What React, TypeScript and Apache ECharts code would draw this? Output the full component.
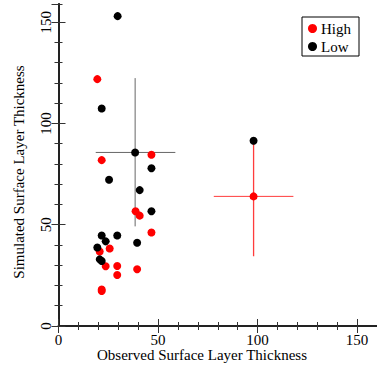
import React, { useEffect, useRef } from "react";
import * as echarts from "echarts";

const highPoints: number[][] = [
  [19.5, 121.9], [21.7, 81.9], [46.7, 84.6], [38.7, 56.7], [40.8, 54.5],
  [46.7, 46.2], [25.7, 38.3], [20.7, 36.8], [23.7, 29.5], [29.5, 29.6],
  [29.5, 25.2], [39.5, 28.0], [21.7, 18.0], [21.7, 17.3], [98, 64.0],
];
const lowPoints: number[][] = [
  [29.7, 153.0], [21.7, 107.4], [38.5, 85.7], [46.7, 77.9], [25.4, 72.2],
  [40.8, 67.1], [46.7, 56.7], [21.7, 44.7], [29.5, 44.7], [23.7, 41.8],
  [19.5, 38.8], [39.5, 41.1], [20.7, 32.9], [21.7, 32.1], [98, 91.5],
];
// [x, y, xLow, xHigh, yLow, yHigh]
const lowErrorBar: number[] = [38.5, 85.7, 18.7, 58.7, 49.2, 122.4];
const highErrorBar: number[] = [98, 64.0, 78, 118, 34.5, 91.5];
const seriesNames = ["High", "Low"];
const xTitle = "Observed Surface Layer Thickness";
const yTitle = "Simulated Surface Layer Thickness";

const FONT = "'Liberation Serif', 'DejaVu Serif', serif";

function makeErr(e: number[], color: string, vWidth: number) {
  const [x, y, xl, xh, yl, yh] = e;
  const base = {
    type: "line",
    silent: true,
    z: 1,
    symbol: "none",
    xAxisIndex: 0,
    yAxisIndex: 0,
    itemStyle: { color },
    emphasis: { disabled: true },
  };
  return [
    { ...base, lineStyle: { color, width: 1, opacity: 1 }, data: [[xl, y], [xh, y]] },
    { ...base, lineStyle: { color, width: vWidth, opacity: 1 }, data: [[x, yl], [x, yh]] },
  ];
}

export default function App() {
  const ref = useRef<HTMLDivElement>(null);
  useEffect(() => {
    if (!ref.current) return;
    const chart = echarts.init(ref.current, null, { renderer: "svg" });
    const axisLine = { show: true, lineStyle: { color: "#222", width: 1.5 } };
    const XMAX = 160, YMAX = 159;
    const mkX = (pos: string, major: boolean, labels: boolean) => ({
      type: "value",
      position: pos,
      min: 0,
      max: XMAX,
      interval: major ? 50 : 10,
      axisLine,
      axisTick: { show: true, inside: true, length: major ? 7 : 4, lineStyle: { color: "#333", width: 1 } },
      axisLabel: labels
        ? { show: true, showMaxLabel: false, margin: 6, fontFamily: FONT, fontSize: 15, color: "#000" }
        : { show: false },
      splitLine: { show: false },
    });
    const mkY = (pos: string, major: boolean, labels: boolean) => ({
      type: "value",
      position: pos,
      min: 0,
      max: YMAX,
      interval: major ? 50 : 10,
      axisLine,
      axisTick: { show: true, inside: true, length: major ? 7 : 4, lineStyle: { color: "#333", width: 1 } },
      axisLabel: labels
        ? { show: true, showMaxLabel: false, rotate: 90, margin: 5, fontFamily: FONT, fontSize: 15, color: "#000", align: "center" }
        : { show: false },
      splitLine: { show: false },
    });
    chart.setOption({
      animation: false,
      backgroundColor: "#fff",
      grid: { left: 58.5, top: 4, width: 320, height: 322, containLabel: false },
      xAxis: [mkX("bottom", true, true), mkX("bottom", false, false), mkX("top", true, false), mkX("top", false, false)],
      yAxis: [mkY("left", true, true), mkY("left", false, false), mkY("right", true, false), mkY("right", false, false)],
      legend: {
        data: seriesNames,
        orient: "vertical",
        left: 302,
        top: 17,
        padding: [4, 8, 2, 6],
        itemGap: 3,
        itemWidth: 9,
        itemHeight: 9,
        icon: "circle",
        borderColor: "#000",
        borderWidth: 1,
        borderRadius: 0,
        textStyle: { fontFamily: FONT, fontSize: 15, color: "#000", padding: [0, 0, 0, -1] },
      },
      graphic: [
        { type: "text", x: 202, y: 355, style: { text: xTitle, font: `15px ${FONT}`, fill: "#000", textAlign: "center", textVerticalAlign: "middle" } },
        { type: "text", x: 19, y: 172, rotation: Math.PI / 2, style: { text: yTitle, font: `15px ${FONT}`, fill: "#000", textAlign: "center", textVerticalAlign: "middle" } },
      ],
      series: [
        ...makeErr(lowErrorBar, "#666666", 1),
        ...makeErr(highErrorBar, "#ff3c3c", 1.3),
        { name: seriesNames[0], type: "scatter", data: highPoints, symbolSize: 8, itemStyle: { color: "#ff0000", opacity: 1 }, z: 3 },
        { name: seriesNames[1], type: "scatter", data: lowPoints, symbolSize: 8, itemStyle: { color: "#000", opacity: 1 }, z: 3 },
      ],
    });
    return () => chart.dispose();
  }, []);
  return <div ref={ref} style={{ position: "fixed", left: 0, top: 0, width: 377, height: 369 }} />;
}
